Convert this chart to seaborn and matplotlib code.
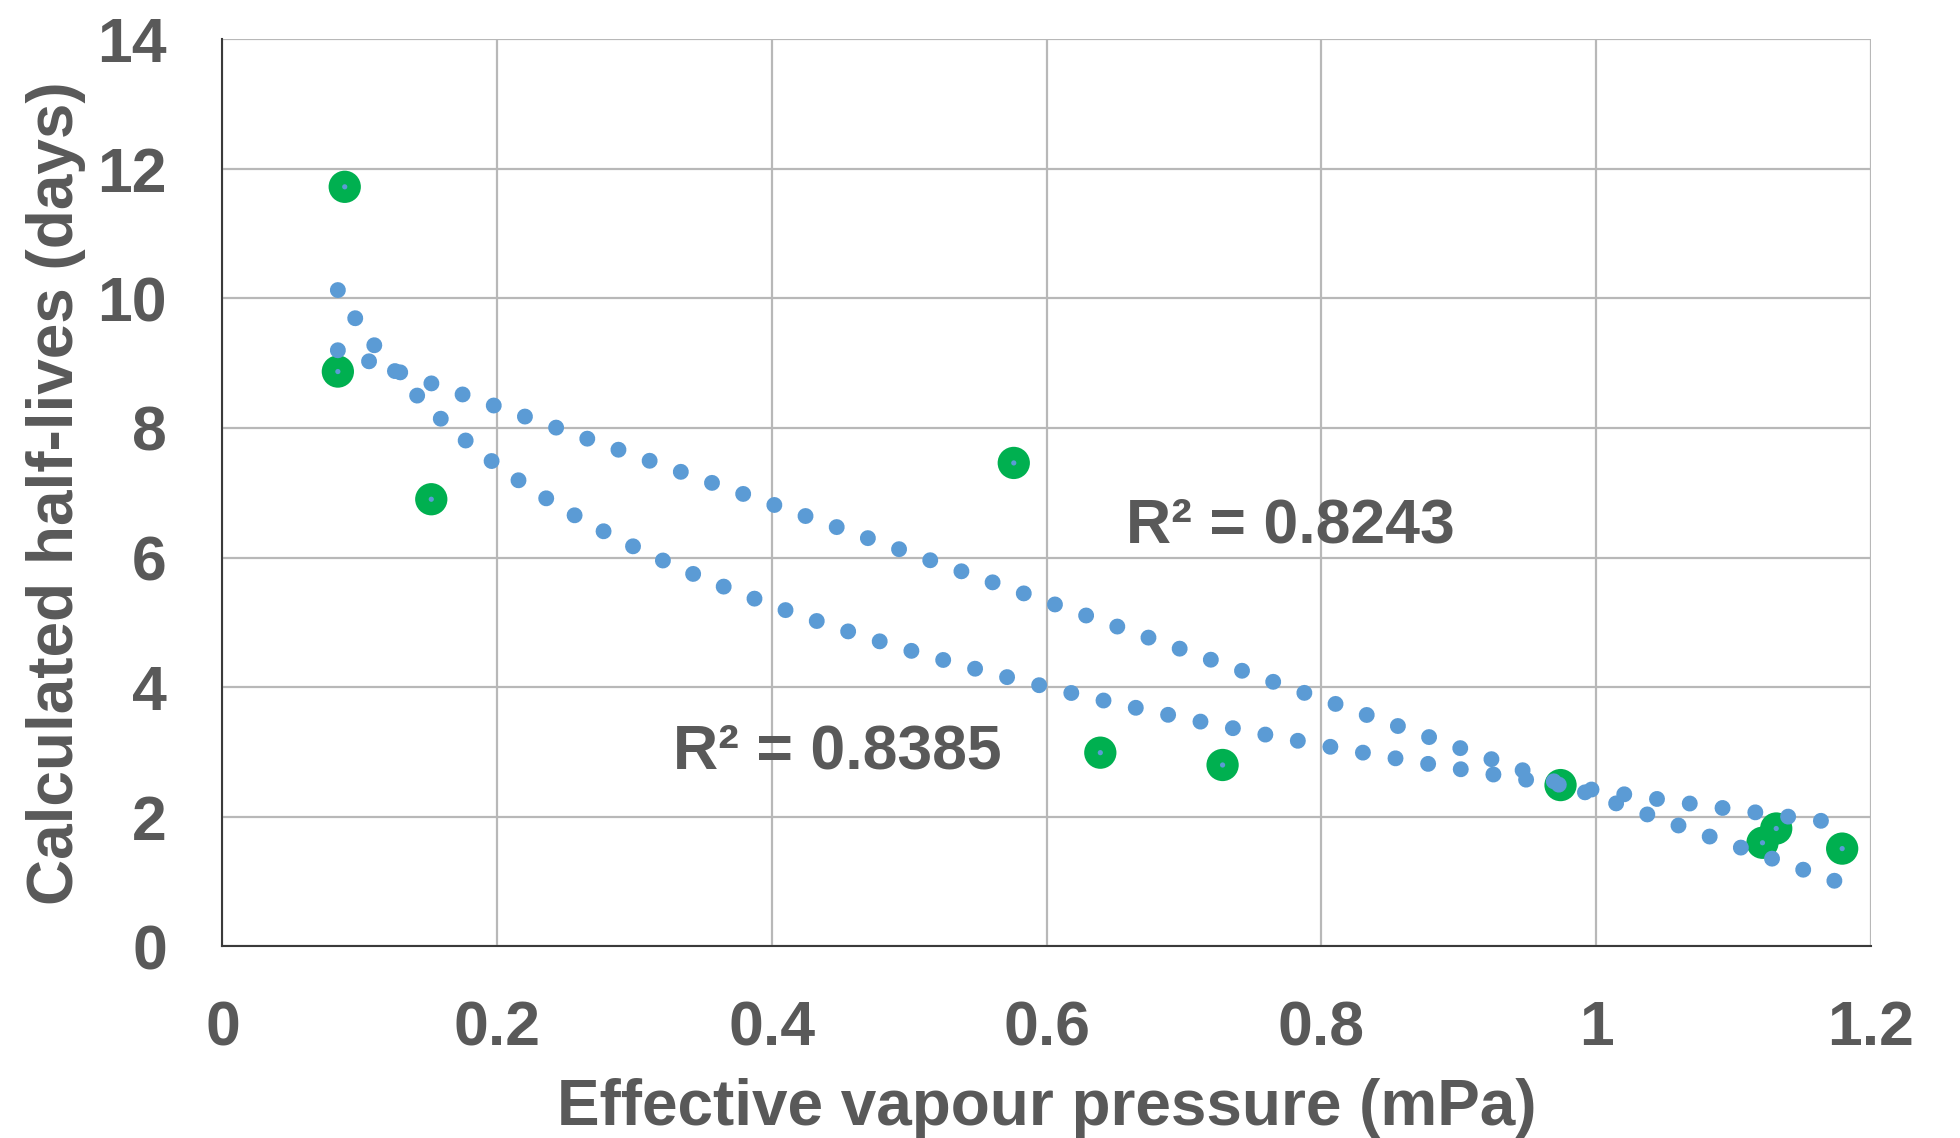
import numpy as np
import pandas as pd
import matplotlib
matplotlib.use('Agg')
import matplotlib.pyplot as plt
import seaborn as sns

# measured half-lives vs effective vapour pressure
vapour_pressure = [0.089, 0.084, 0.152, 0.576, 0.639, 0.728, 0.974, 1.131, 1.121, 1.179]
half_lives = [11.72, 8.87, 6.90, 7.46, 2.99, 2.80, 2.49, 1.82, 1.60, 1.51]

r2_labels = ['R² = 0.8243', 'R² = 0.8385']
r2_pos = [(0.658, 6.24), (0.328, 2.74)]

x_ticks = [0, 0.2, 0.4, 0.6, 0.8, 1, 1.2]
x_ticklabels = ['0', '0.2', '0.4', '0.6', '0.8', '1', '1.2']
y_ticks = [0, 2, 4, 6, 8, 10, 12, 14]

df = pd.DataFrame({'vp': vapour_pressure, 'hl': half_lives})

sns.set_style('white')
plt.rcParams['font.family'] = ['Liberation Sans', 'DejaVu Sans']
plt.rcParams['font.weight'] = 'bold'

grey_txt = '#595959'
blue = '#5B9BD5'
green = '#00B050'

fig = plt.figure(figsize=(19.6, 11.38), dpi=100)
ax = fig.add_axes([0.1135, 0.1683, 0.8411, 0.7974])

# green data markers
sns.scatterplot(data=df, x='vp', y='hl', ax=ax, s=540, color=green, edgecolor='none', zorder=3)

# excel style round-dot trendlines (linear and logarithmic fits of the data)
dot_kws = dict(color=blue, lw=11.5, linestyle=(0, (0.001, 2.07)), dash_capstyle='round', zorder=4)
sns.regplot(data=df, x='vp', y='hl', ax=ax, scatter=False, ci=None, truncate=True, line_kws=dot_kws)
sns.regplot(data=df, x='vp', y='hl', ax=ax, scatter=False, ci=None, truncate=True, logx=True, line_kws=dot_kws)

# small blue centre dot of each point
sns.scatterplot(data=df, x='vp', y='hl', ax=ax, s=14, color=blue, edgecolor='none', zorder=5)

for lab, (tx, ty) in zip(r2_labels, r2_pos):
    ax.text(tx, ty, lab, fontsize=45, color=grey_txt, fontweight='bold', ha='left', va='baseline', zorder=6)

ax.set_xlim(0, 1.2)
ax.set_ylim(0, 14)
ax.set_xticks(x_ticks)
ax.set_xticklabels(x_ticklabels)
ax.set_yticks(y_ticks)
ax.tick_params(axis='both', length=0, labelsize=45, labelcolor=grey_txt)
ax.tick_params(axis='x', pad=38)
ax.tick_params(axis='y', pad=40)
for lab in ax.get_xticklabels() + ax.get_yticklabels():
    lab.set_fontweight('bold')

ax.grid(True, color='#B8B8B8', lw=1.6)
ax.set_axisbelow(True)
for side in ['top', 'right']:
    ax.spines[side].set_visible(False)
for side in ['left', 'bottom']:
    ax.spines[side].set_color('#3a3a3a')
    ax.spines[side].set_linewidth(1.5)

ax.set_xlabel('Effective vapour pressure (mPa)', fontsize=46, color=grey_txt, fontweight='bold', labelpad=14)
ax.set_ylabel('Calculated half-lives (days)', fontsize=46, color=grey_txt, fontweight='bold', labelpad=8)

fig.savefig('out.png', dpi=100)
